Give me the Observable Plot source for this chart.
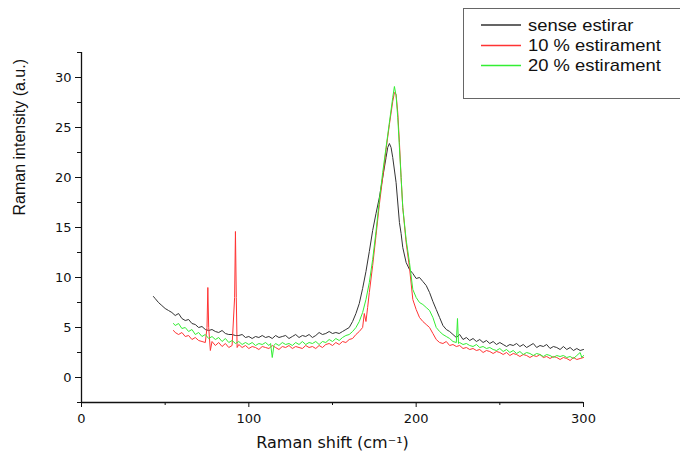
<!DOCTYPE html>
<html>
<head>
<meta charset="utf-8">
<script src="https://cdn.jsdelivr.net/npm/d3@7"></script>
<script src="https://cdn.jsdelivr.net/npm/@observablehq/plot@0.6"></script>
<style>
  html, body { margin: 0; padding: 0; background: #fff; overflow: hidden; }
  #wrap { position: relative; width: 680px; height: 460px; overflow: hidden; }
  #legend { position: absolute; left: 0; top: 0; pointer-events: none; }
</style>
</head>
<body>
<div id="wrap"></div>
<script>
// ---- data ----
const seriesNames = ["sense estirar", "10 % estirament", "20 % estirament"];
const seriesColors = ["#333333", "#ff3333", "#33ee33"];

const blackX = [43,44,46,48,50,52,54,56,58,60,62,64,66,68,70,72,74,76,78,80,82,84,86,88,90,92,94,96,98,100,102,104,106,108,110,112,114,116,118,120,122,124,126,128,130,132,134,136,138,140,142,144,146,148,150,152,154,156,158,160,162,164,166,168,170,172,174,176,178,180,182,183,184,185,186,188,190,191,192,194,196,198,200,202,204,206,208,210,212,214,216,218,220,222,224,226,228,230,232,234,236,238,240,242,244,246,248,250,252,254,256,258,260,262,264,266,268,270,272,274,276,278,280,282,284,286,288,290,292,294,296,298,300];
const blackY = [8.1,7.9,7.5,7.2,6.9,6.7,6.5,6.2,6.4,5.9,5.7,5.8,5.4,5.3,5.0,5.1,4.8,4.7,4.8,4.6,4.5,4.7,4.4,4.3,4.3,4.2,4.2,4.3,4.0,4.1,3.9,4.1,4.0,4.2,4.0,4.1,3.9,4.2,4.0,4.1,4.2,3.9,4.1,4.3,4.0,4.2,4.1,4.3,4.0,4.2,4.5,4.3,4.4,4.6,4.4,4.5,4.4,4.6,4.8,5.0,5.6,6.4,7.4,8.9,10.6,12.6,14.7,16.4,18.0,20.0,22.0,23.0,23.4,23.0,22.0,19.5,15.5,14.4,13.0,11.5,10.8,10.4,9.9,10.0,9.6,9.2,8.5,7.6,6.8,6.0,5.2,4.8,4.6,4.3,4.0,4.3,3.8,4.0,3.7,3.9,3.6,3.8,3.5,3.7,3.4,3.6,3.3,3.5,3.3,3.1,3.3,3.2,3.4,3.1,3.3,3.0,3.2,3.4,3.0,3.2,3.1,3.3,2.9,3.1,3.0,2.8,3.1,2.8,3.0,2.7,2.9,2.7,2.8];

const redX = [55,56,58,60,62,64,66,68,70,72,74,75,75.5,76,77,78,80,82,84,86,88,90,91.5,92,92.5,93,94,96,98,100,102,104,106,108,110,112,114,116,118,120,122,124,126,128,130,132,134,136,138,140,142,144,146,148,150,152,154,156,158,160,162,164,166,168,169,170,171,172,174,176,178,180,182,184,186,187,188,189,190,191,192,194,196,198,200,202,204,206,208,210,212,214,216,218,220,222,224,226,228,230,232,234,236,238,240,242,244,246,248,250,252,254,256,258,260,262,264,266,268,270,272,274,276,278,280,282,284,286,288,290,292,294,296,298,300];
const redY = [4.7,4.5,4.3,4.5,4.1,4.2,3.8,4.0,3.7,3.6,3.5,5.0,9.0,5.0,2.7,3.6,3.2,3.5,3.1,3.4,3.0,3.2,8.0,14.6,8.0,3.0,3.3,3.0,3.2,2.9,3.1,3.0,2.8,3.1,3.0,2.9,3.2,3.0,2.8,3.1,3.0,3.2,2.9,3.1,3.0,2.9,3.2,3.0,3.1,2.9,3.2,3.0,3.3,3.4,3.2,3.5,3.3,3.6,3.5,3.8,3.9,4.3,4.6,5.0,6.4,5.6,7.0,8.5,11.2,14.2,17.3,20.0,22.8,25.3,27.6,28.5,28.3,26.5,23.5,20.0,17.0,13.5,11.0,7.8,6.8,6.0,5.6,5.3,5.0,4.4,3.8,3.5,3.4,3.6,3.2,3.3,3.1,3.2,2.9,3.0,2.8,2.9,2.7,2.8,2.5,2.7,2.6,2.4,2.6,2.5,2.3,2.5,2.2,2.4,2.3,2.1,2.3,2.2,2.0,2.2,2.1,2.3,2.0,2.1,1.9,2.1,2.0,1.8,2.0,1.9,1.7,2.0,1.8,1.9,2.0];

const greenX = [55,56,58,60,62,64,66,68,70,72,74,76,78,80,82,84,86,88,90,92,94,96,98,100,102,104,106,108,110,112,113,114,115,116,118,120,122,124,126,128,130,132,134,136,138,140,142,144,146,148,150,152,154,156,158,160,162,164,166,168,170,172,174,176,178,180,182,184,186,187,188,189,190,191,192,194,196,198,200,202,204,206,208,210,212,214,216,218,220,222,224,224.7,225.3,226,228,230,232,234,236,238,240,242,244,246,248,250,252,254,256,258,260,262,264,266,268,270,272,274,276,278,280,282,284,286,288,290,292,294,296,298,299,300];
const greenY = [5.4,5.2,5.4,4.9,5.0,4.6,4.8,4.3,4.5,4.1,4.3,3.9,4.1,3.8,4.0,3.6,3.9,3.5,3.7,3.4,3.6,3.3,3.5,3.3,3.5,3.2,3.4,3.3,3.5,3.2,3.4,2.0,3.2,3.4,3.2,3.5,3.3,3.4,3.2,3.5,3.3,3.6,3.3,3.5,3.4,3.6,3.3,3.6,3.5,3.8,3.6,3.9,3.7,4.0,4.2,4.3,4.6,5.0,5.6,6.5,7.8,9.5,11.8,14.6,17.7,20.5,23.0,25.5,28.0,29.1,28.2,26.0,23.0,20.0,17.0,13.8,11.5,8.8,8.0,7.5,7.3,7.0,6.7,6.0,5.0,4.6,4.3,4.1,3.9,3.6,3.5,5.9,3.4,3.5,3.3,3.4,3.2,3.1,3.3,3.0,3.1,2.9,3.0,2.8,2.7,2.9,2.6,2.8,2.5,2.7,2.4,2.6,2.3,2.5,2.4,2.2,2.4,2.3,2.1,2.3,2.2,2.0,2.2,2.1,2.2,2.0,2.1,1.9,2.2,2.5,2.0,2.2];

const xMajor = [0, 100, 200, 300];
const xMinor = [50, 150, 250];
const yMajor = [0, 5, 10, 15, 20, 25, 30];
const yMinor = [-2.5, 2.5, 7.5, 12.5, 17.5, 22.5, 27.5, 32.5];
const xLabel = "Raman shift (cm⁻¹)";
const yLabel = "Raman intensity (a.u.)";

// ---- build table ----
const rows = [];
[[blackX, blackY], [redX, redY], [greenX, greenY]].forEach(([xs, ys], i) => {
  xs.forEach((x, j) => rows.push({series: seriesNames[i], x, y: ys[j]}));
});

const tickFont = "DejaVu Sans, sans-serif";
const chart = Plot.plot({
  width: 680,
  height: 460,
  marginLeft: 81,
  marginRight: 97,
  marginTop: 52,
  marginBottom: 58,
  style: {background: "#fff", color: "#111", fontFamily: tickFont},
  x: {domain: [0, 300]},
  y: {domain: [-2.5, 32.5]},
  color: {domain: seriesNames.slice(), range: seriesColors.slice()},
  marks: [
    Plot.lineY(rows, {x: "x", y: "y", z: "series", stroke: "series", strokeWidth: 1, strokeLinejoin: "round"}),
    Plot.axisX(xMajor, {tickSize: 5, tickPadding: 6, fontSize: 13, label: null, stroke: "#111"}),
    Plot.axisX(xMinor, {tickSize: 3, tickFormat: () => "", label: null, stroke: "#111"}),
    Plot.axisY(yMajor, {tickSize: 6, tickPadding: 4, fontSize: 13, label: null, stroke: "#111"}),
    Plot.axisY(yMinor, {tickSize: 4, tickFormat: () => "", label: null, stroke: "#111"}),
    Plot.ruleY([-2.5], {stroke: "#111", strokeWidth: 1.3}),
    Plot.ruleX([0], {stroke: "#111", strokeWidth: 1.3}),
    Plot.text([xLabel], {frameAnchor: "bottom", dy: 45, fontSize: 16, fill: "#111", fontFamily: tickFont}),
    Plot.text([yLabel], {frameAnchor: "left", dx: -62, dy: -12, rotate: -90, fontSize: 16, fill: "#111", fontFamily: "Liberation Sans, Arial, sans-serif"})
  ]
});

const wrap = document.getElementById("wrap");
wrap.appendChild(chart);

// legend overlay (SVG)
const lg = d3.create("svg").attr("id", "legend").attr("width", 680).attr("height", 110);
lg.append("rect").attr("x", 463.5).attr("y", 8.5).attr("width", 260).attr("height", 90)
  .attr("fill", "#fff").attr("stroke", "#666").attr("stroke-width", 1);
const rowY = [25, 45.5, 65.5];
seriesNames.forEach((name, i) => {
  lg.append("rect").attr("x", 481).attr("y", rowY[i] - 0.75).attr("width", 40).attr("height", 1.5)
    .attr("fill", seriesColors[i]).attr("stroke", "none");
  lg.append("text").attr("x", 528).attr("y", rowY[i]).attr("dy", "0.35em")
    .attr("font-family", "Liberation Sans, Arial, sans-serif").attr("font-size", 16)
    .attr("fill", "#111")
    .attr("transform", `translate(528,0) scale(1.15,1) translate(-528,0)`)
    .text(name);
});
wrap.appendChild(lg.node());
</script>
</body>
</html>
